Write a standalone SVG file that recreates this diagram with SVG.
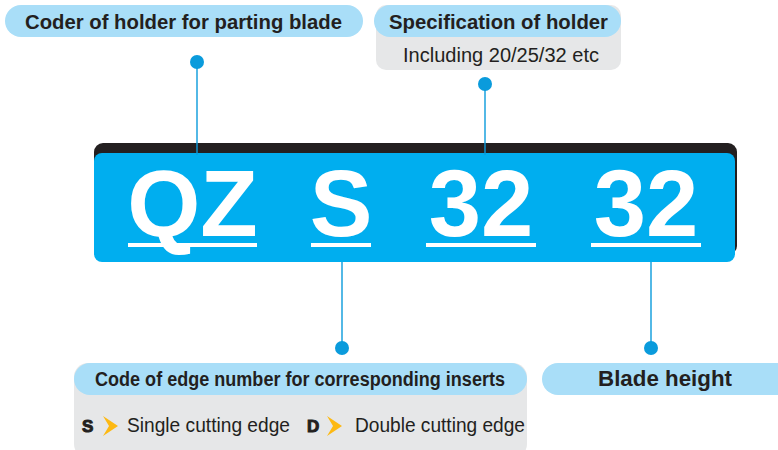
<svg xmlns="http://www.w3.org/2000/svg" width="778" height="450" viewBox="0 0 778 450">
<style>
.pill{fill:#A9DEF8}
.grey{fill:#E6E7E8}
.lbl{font-family:"Liberation Sans",Arial,sans-serif;font-weight:bold;fill:#231F20}
.txt{font-family:"Liberation Sans",Arial,sans-serif;fill:#231F20}
.big{font-family:"Liberation Sans",Arial,sans-serif;font-weight:bold;font-size:94px;fill:#FFFFFF;text-anchor:middle}
.ul{fill:#FFFFFF}
.con line{stroke:#0A9BDC;stroke-width:1.4}
.con circle{fill:#0A9BDC}
.chev{fill:#FDB913}
</style>
<rect width="778" height="450" fill="#FFFFFF"/>

<g id="node-coder">
<rect class="pill" x="5" y="5" width="358" height="32" rx="16"/>
<text class="lbl" x="25" y="29" font-size="20.5" textLength="317" lengthAdjust="spacingAndGlyphs">Coder of holder for parting blade</text>
</g>

<g id="node-spec">
<rect class="grey" x="376" y="5" width="245" height="65" rx="10"/>
<rect class="pill" x="374" y="5" width="247" height="32" rx="16"/>
<text class="lbl" x="389" y="29" font-size="20.5" textLength="219" lengthAdjust="spacingAndGlyphs">Specification of holder</text>
<text class="txt" x="403" y="62" font-size="19.5" textLength="196" lengthAdjust="spacingAndGlyphs">Including 20/25/32 etc</text>
</g>

<g id="node-code">
<rect x="94" y="143" width="643" height="112" rx="9" fill="#231F20"/>
<rect x="94" y="153" width="641" height="109" rx="8" fill="#00AEEF"/>
<text class="big" x="192.5" y="236">QZ</text>
<rect class="ul" x="128" y="243" width="129" height="4"/>
<text class="big" x="341" y="236">S</text>
<rect class="ul" x="311" y="243" width="60" height="4"/>
<text class="big" x="481" y="236">32</text>
<rect class="ul" x="426" y="243" width="110" height="4"/>
<text class="big" x="646" y="236">32</text>
<rect class="ul" x="591" y="243" width="110" height="4"/>
</g>

<g id="node-edge">
<rect class="grey" x="74" y="363" width="453" height="95" rx="14"/>
<rect class="pill" x="74" y="363" width="453" height="32" rx="16"/>
<text class="lbl" x="95" y="386" font-size="19.5" textLength="410" lengthAdjust="spacingAndGlyphs">Code of edge number for corresponding inserts</text>
<text class="lbl" x="82" y="432" font-size="17" font-weight="900" stroke="#231F20" stroke-width="1">S</text>
<polygon class="chev" points="103,416 118,426 103,436 109,426"/>
<text class="txt" x="127" y="432" font-size="19.5" textLength="163" lengthAdjust="spacingAndGlyphs">Single cutting edge</text>
<text class="lbl" x="307" y="432" font-size="17" font-weight="900" stroke="#231F20" stroke-width="1">D</text>
<polygon class="chev" points="327,416 342,426 327,436 333,426"/>
<text class="txt" x="355" y="432" font-size="19.5" textLength="170" lengthAdjust="spacingAndGlyphs">Double cutting edge</text>
</g>

<g id="node-height">
<rect class="pill" x="542" y="363" width="260" height="32" rx="16"/>
<text class="lbl" x="598" y="386" font-size="22" textLength="134" lengthAdjust="spacingAndGlyphs">Blade height</text>
</g>

<g id="connectors" class="con">
<line x1="197" y1="62" x2="197" y2="155"/>
<circle cx="197" cy="62" r="7"/>
<line x1="485" y1="84" x2="485" y2="155"/>
<circle cx="485" cy="84" r="7"/>
<line x1="342" y1="262" x2="342" y2="348"/>
<circle cx="342" cy="348" r="7"/>
<line x1="651" y1="262" x2="651" y2="348"/>
<circle cx="651" cy="348" r="7"/>
</g>
</svg>
